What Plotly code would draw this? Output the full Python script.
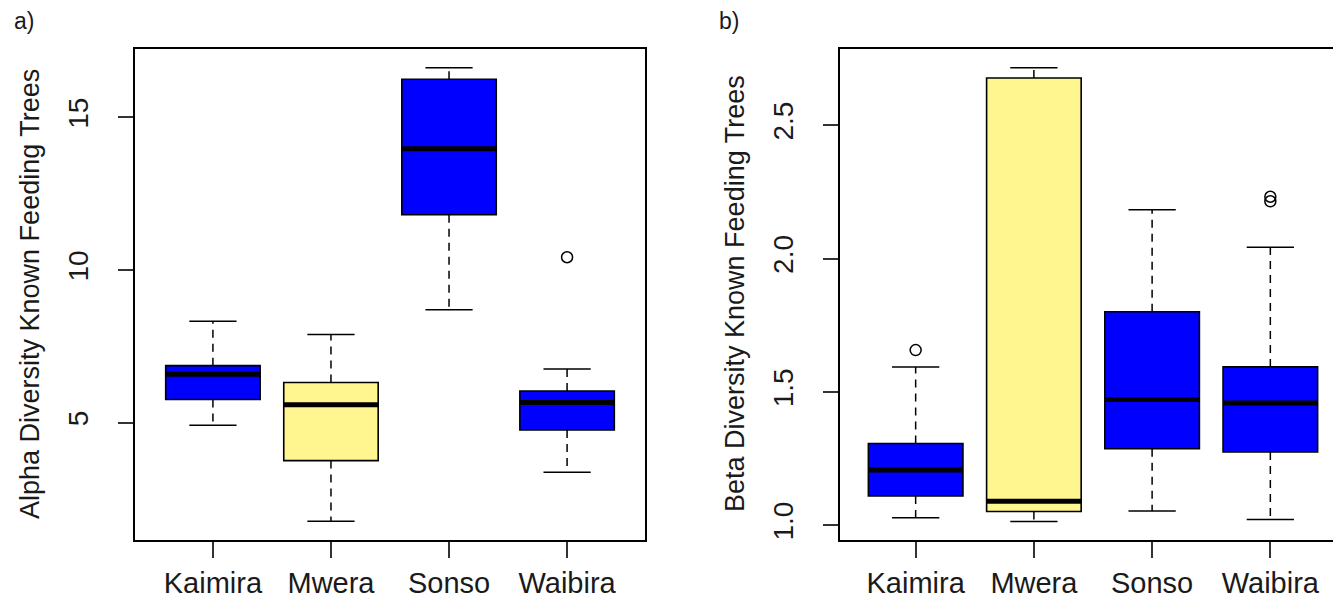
import plotly.graph_objects as go

categories = ["Kaimira", "Mwera", "Sonso", "Waibira"]
box_colors = ["#0000FF", "#FFF68F", "#0000FF", "#0000FF"]

alpha_lower = [4.92, 1.77, 8.70, 3.38]
alpha_q1 = [5.76, 3.76, 11.81, 4.76]
alpha_median = [6.59, 5.59, 13.97, 5.66]
alpha_q3 = [6.87, 6.32, 16.25, 6.04]
alpha_upper = [8.32, 7.89, 16.63, 6.76]
alpha_outliers = [[], [], [], [10.42]]

beta_lower = [1.028, 1.014, 1.054, 1.022]
beta_q1 = [1.110, 1.052, 1.287, 1.275]
beta_median = [1.207, 1.090, 1.472, 1.459]
beta_q3 = [1.307, 2.677, 1.801, 1.594]
beta_upper = [1.594, 2.716, 2.183, 2.043]
beta_outliers = [[1.657], [], [], [2.232, 2.215]]

alpha_ticks = [5, 10, 15]
beta_ticks = [1.0, 1.5, 2.0, 2.5]
beta_ticktext = ["1.0", "1.5", "2.0", "2.5"]

BOX_W = 0.8
CAP_W = 0.4
FONT = "Liberation Sans, Arial, sans-serif"
TXT = "#1a1a1a"

fig = go.Figure()


def add_panel(xa, ya, lower, q1, med, q3, upper, outliers):
    pos = list(range(1, len(categories) + 1))
    wx, wy = [], []
    for p, lo, a, b, up in zip(pos, lower, q1, q3, upper):
        wx += [p, p, None, p, p, None]
        wy += [b, up, None, a, lo, None]
    fig.add_trace(go.Scatter(x=wx, y=wy, mode="lines", xaxis=xa, yaxis=ya,
                             line=dict(color="black", width=1.5, dash="8px,6px"),
                             showlegend=False, hoverinfo="skip"))
    cx, cy = [], []
    for p, lo, up in zip(pos, lower, upper):
        cx += [p - CAP_W / 2, p + CAP_W / 2, None, p - CAP_W / 2, p + CAP_W / 2, None]
        cy += [up, up, None, lo, lo, None]
    fig.add_trace(go.Scatter(x=cx, y=cy, mode="lines", xaxis=xa, yaxis=ya,
                             line=dict(color="black", width=1.5),
                             showlegend=False, hoverinfo="skip"))
    for i, p in enumerate(pos):
        fig.add_trace(go.Box(
            x=[p], q1=[q1[i]], median=[med[i]], q3=[q3[i]],
            lowerfence=[q1[i]], upperfence=[q3[i]],
            width=BOX_W, whiskerwidth=0, boxpoints=False,
            fillcolor=box_colors[i], line=dict(color="black", width=1.6),
            xaxis=xa, yaxis=ya, showlegend=False, name=categories[i]))
    mx, my = [], []
    for p, m in zip(pos, med):
        mx += [p - BOX_W / 2, p + BOX_W / 2, None]
        my += [m, m, None]
    fig.add_trace(go.Scatter(x=mx, y=my, mode="lines", xaxis=xa, yaxis=ya,
                             line=dict(color="black", width=5),
                             showlegend=False, hoverinfo="skip"))
    ox, oy = [], []
    for p, outs in zip(pos, outliers):
        for o in outs:
            ox.append(p)
            oy.append(o)
    fig.add_trace(go.Scatter(x=ox, y=oy, mode="markers", xaxis=xa, yaxis=ya,
                             marker=dict(symbol="circle-open", size=11, color="black",
                                         line=dict(width=1.5)),
                             showlegend=False))


add_panel("x", "y", alpha_lower, alpha_q1, alpha_median, alpha_q3, alpha_upper, alpha_outliers)
add_panel("x2", "y2", beta_lower, beta_q1, beta_median, beta_q3, beta_upper, beta_outliers)

xcommon = dict(tickmode="array", tickvals=[1, 2, 3, 4], ticktext=categories,
               showline=True, mirror=True, linecolor="black", linewidth=1.5,
               ticks="outside", ticklen=16, tickwidth=1.5, tickcolor="#333",
               showgrid=False, zeroline=False, ticklabelstandoff=0,
               tickfont=dict(family=FONT, size=29, color=TXT))
ycommon = dict(showline=True, mirror=True, linecolor="black", linewidth=1.5,
               ticks="outside", ticklen=15, tickwidth=1.5, tickcolor="#333",
               showgrid=False, zeroline=False, tickangle=-90, ticklabelstandoff=19,
               tickfont=dict(family=FONT, size=28, color=TXT))

ydom = [74 / 606, 1 - 41 / 606]
fig.update_layout(
    width=1341, height=606,
    margin=dict(l=0, r=0, t=0, b=0),
    paper_bgcolor="white", plot_bgcolor="white",
    boxmode="overlay",
    showlegend=False,
    xaxis=dict(domain=[127 / 1341, 637 / 1341], range=[0.34, 4.66], anchor="y", **xcommon),
    yaxis=dict(domain=ydom, range=[1.16, 17.24], anchor="x",
               tickmode="array", tickvals=alpha_ticks, ticktext=[str(t) for t in alpha_ticks],
               **ycommon),
    xaxis2=dict(domain=[832 / 1341, 1338 / 1341], range=[0.36, 4.64], anchor="y2", **xcommon),
    yaxis2=dict(domain=ydom, range=[0.945, 2.786], anchor="x2",
                tickmode="array", tickvals=beta_ticks, ticktext=beta_ticktext,
                **ycommon),
    annotations=[
        dict(text="Alpha Diversity Known Feeding Trees", textangle=-90,
             x=22 / 1341, y=(606 - 286) / 606, xref="paper", yref="paper",
             xanchor="center", yanchor="middle", showarrow=False,
             font=dict(family=FONT, size=27, color=TXT)),
        dict(text="Beta Diversity Known Feeding Trees", textangle=-90,
             x=727 / 1341, y=(606 - 286) / 606, xref="paper", yref="paper",
             xanchor="center", yanchor="middle", showarrow=False,
             font=dict(family=FONT, size=27, color=TXT)),
        dict(text="a)", x=16 / 1341, y=1 - 13 / 606, xref="paper", yref="paper",
             xanchor="center", yanchor="middle", showarrow=False,
             font=dict(family=FONT, size=23, color=TXT)),
        dict(text="b)", x=721 / 1341, y=1 - 13 / 606, xref="paper", yref="paper",
             xanchor="center", yanchor="middle", showarrow=False,
             font=dict(family=FONT, size=23, color=TXT)),
    ],
)

fig.write_html("out.html")
